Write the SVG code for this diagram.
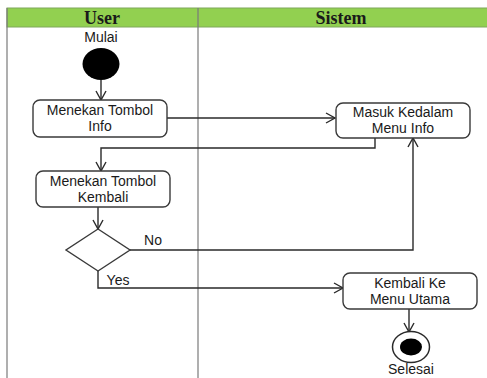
<svg xmlns="http://www.w3.org/2000/svg" width="487" height="378" viewBox="0 0 487 378">
  <style>
    .lane { fill: none; stroke: #7a7a7a; stroke-width: 1.2; }
    .head { fill: #92d050; stroke: #7fa85a; stroke-width: 1; }
    .title { font-family: "Liberation Serif", "Times New Roman", serif; font-weight: bold; font-size: 18px; fill: #1a1a1a; text-anchor: middle; }
    .box { fill: #ffffff; stroke: #3a3a3a; stroke-width: 1.4; }
    .lbl { font-family: "Liberation Sans", Arial, sans-serif; font-size: 14px; fill: #1a1a1a; text-anchor: middle; }
    .edge { fill: none; stroke: #2a2a2a; stroke-width: 1.4; marker-end: url(#open); }
  </style>
  <defs>
    <marker id="open" markerWidth="12" markerHeight="12" refX="10" refY="6" orient="auto" markerUnits="userSpaceOnUse">
      <path d="M1,1 L10,6 L1,11" fill="none" stroke="#2a2a2a" stroke-width="1.4"/>
    </marker>
  </defs>

  <rect width="487" height="378" fill="#ffffff"/>

  <!-- swimlanes -->
  <g id="lanes">
    <rect class="head" x="7" y="8" width="482" height="19"/>
    <line class="lane" x1="7" y1="8" x2="7" y2="378"/>
    <line class="lane" x1="198" y1="8" x2="198" y2="378"/>
    <text class="title" x="102" y="24">User</text>
    <text class="title" x="341" y="24">Sistem</text>
  </g>

  <!-- connectors -->
  <g id="connectors">
    <path class="edge" d="M101,80 L101,100"/>
    <path class="edge" d="M167,118 L335,118"/>
    <path class="edge" d="M375,138 L375,148 L101,148 L101,171"/>
    <path class="edge" d="M98,207 L98,229"/>
    <path class="edge" d="M130,250 L413,250 L413,138"/>
    <path class="edge" d="M98,271 L98,288 L343,288"/>
    <path class="edge" d="M409,309 L409,332"/>
    <text class="lbl" x="153" y="245">No</text>
    <text class="lbl" x="118" y="285">Yes</text>
  </g>

  <g id="start">
    <text class="lbl" x="101" y="42">Mulai</text>
    <ellipse cx="101" cy="64" rx="18.5" ry="16" fill="#000"/>
  </g>

  <g id="tombol-info">
    <rect class="box" x="33" y="100" width="134" height="37" rx="7"/>
    <text class="lbl" x="100" y="114.5">Menekan Tombol</text>
    <text class="lbl" x="100" y="131">Info</text>
  </g>

  <g id="menu-info">
    <rect class="box" x="336" y="103" width="134" height="35" rx="7"/>
    <text class="lbl" x="403" y="116.5">Masuk Kedalam</text>
    <text class="lbl" x="403" y="133">Menu Info</text>
  </g>

  <g id="tombol-kembali">
    <rect class="box" x="36" y="171" width="134" height="36" rx="7"/>
    <text class="lbl" x="103" y="185.5">Menekan Tombol</text>
    <text class="lbl" x="103" y="202">Kembali</text>
  </g>

  <g id="decision">
    <polygon class="box" points="98,229 130,250 98,271 66,250"/>
  </g>

  <g id="menu-utama">
    <rect class="box" x="343" y="273" width="134" height="36" rx="7"/>
    <text class="lbl" x="410" y="287.5">Kembali Ke</text>
    <text class="lbl" x="410" y="304">Menu Utama</text>
  </g>

  <g id="end">
    <ellipse cx="411" cy="347" rx="18.5" ry="15.5" fill="#fff" stroke="#2a2a2a" stroke-width="1.5"/>
    <ellipse cx="411" cy="347" rx="11" ry="8.5" fill="#000"/>
    <text class="lbl" x="411" y="374">Selesai</text>
  </g>
</svg>
